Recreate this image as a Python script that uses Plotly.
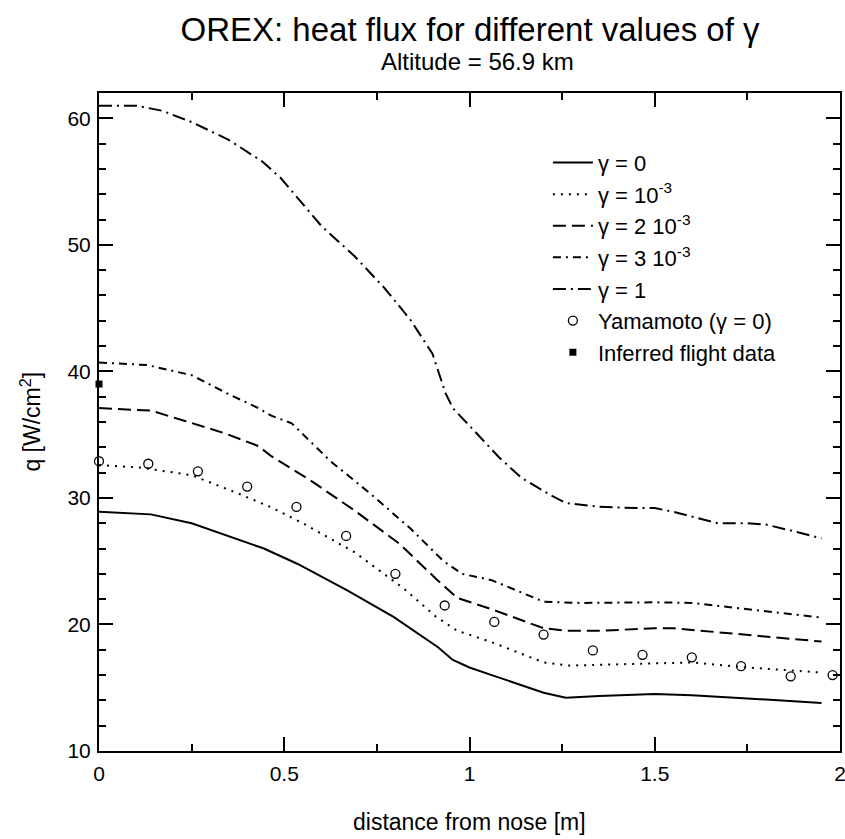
import plotly.graph_objects as go

# ---- data ----
x_g0 = [0, 0.14, 0.25, 0.355, 0.445, 0.535, 0.67, 0.795, 0.915, 0.955, 1.0, 1.06, 1.2, 1.26, 1.35, 1.5, 1.6, 1.75, 1.95]
y_g0 = [28.9, 28.7, 28.0, 26.9, 26.0, 24.8, 22.7, 20.6, 18.2, 17.2, 16.6, 16.0, 14.6, 14.2, 14.35, 14.5, 14.4, 14.15, 13.8]

x_g1e3 = [0, 0.11, 0.25, 0.38, 0.465, 0.55, 0.69, 0.82, 0.91, 0.967, 1.06, 1.2, 1.27, 1.35, 1.5, 1.6, 1.75, 1.95]
y_g1e3 = [32.6, 32.4, 31.8, 30.3, 29.25, 28.0, 25.7, 22.9, 20.6, 19.5, 18.6, 17.0, 16.75, 16.8, 16.9, 17.0, 16.6, 16.2]

x_g2e3 = [0, 0.14, 0.23, 0.34, 0.43, 0.465, 0.57, 0.69, 0.81, 0.91, 0.967, 1.06, 1.2, 1.26, 1.35, 1.5, 1.55, 1.7, 1.95]
y_g2e3 = [37.1, 36.9, 36.1, 35.1, 34.1, 33.3, 31.4, 29.0, 26.4, 23.6, 22.1, 21.2, 19.7, 19.5, 19.5, 19.7, 19.7, 19.3, 18.65]

x_g3e3 = [0, 0.13, 0.25, 0.35, 0.43, 0.465, 0.52, 0.625, 0.73, 0.84, 0.93, 0.98, 1.06, 1.2, 1.3, 1.5, 1.6, 1.75, 1.95]
y_g3e3 = [40.7, 40.5, 39.7, 38.2, 37.1, 36.5, 35.9, 32.9, 30.4, 27.6, 25.0, 24.0, 23.5, 21.8, 21.7, 21.75, 21.7, 21.2, 20.55]

x_g1 = [0, 0.1, 0.17, 0.25, 0.35, 0.44, 0.49, 0.6, 0.69, 0.77, 0.84, 0.9, 0.935, 0.955, 1.0, 1.08, 1.14, 1.22, 1.26, 1.35, 1.45, 1.5, 1.55, 1.62, 1.67, 1.75, 1.8, 1.87, 1.95]
y_g1 = [61.0, 61.0, 60.6, 59.7, 58.3, 56.6, 55.3, 51.5, 49.1, 46.6, 44.1, 41.4, 38.3, 37.1, 35.7, 33.2, 31.6, 30.2, 29.6, 29.3, 29.2, 29.2, 28.9, 28.4, 28.0, 28.0, 27.9, 27.4, 26.8]

x_yam = [0, 0.133, 0.267, 0.4, 0.533, 0.667, 0.8, 0.933, 1.067, 1.2, 1.333, 1.467, 1.6, 1.733, 1.867, 1.98]
y_yam = [32.9, 32.7, 32.1, 30.9, 29.3, 27.0, 24.0, 21.5, 20.2, 19.2, 17.95, 17.6, 17.4, 16.7, 15.9, 16.0]

x_flight = [0]
y_flight = [39.0]

names = ["γ = 0", "γ = 10<sup>-3</sup>", "γ = 2 10<sup>-3</sup>", "γ = 3 10<sup>-3</sup>", "γ = 1",
         "Yamamoto (γ = 0)", "Inferred flight data"]

FONT = "Liberation Sans, Arial, sans-serif"
W, H = 845, 839
ML, MR, MT, MB = 98.5, 4.5, 93.3, 88.3
PW = W - ML - MR
PH = H - MT - MB

fig = go.Figure()
line_specs = [
    (x_g0, y_g0, "solid"),
    (x_g1e3, y_g1e3, "2px,6px"),
    (x_g2e3, y_g2e3, "13px,6px"),
    (x_g3e3, y_g3e3, "8px,5px,2px,5px"),
    (x_g1, y_g1, "13px,5px,2px,5px"),
]
for (xs, ys, dash), nm in zip(line_specs, names[:5]):
    fig.add_trace(go.Scatter(x=xs, y=ys, mode="lines", name=nm,
                             line=dict(color="black", width=2, dash=dash)))

fig.add_trace(go.Scatter(x=x_yam, y=y_yam, mode="markers", name=names[5],
                         marker=dict(symbol="circle-open", size=9, color="black",
                                     line=dict(width=1.3, color="black")),
                         cliponaxis=False))
fig.add_trace(go.Scatter(x=x_flight, y=y_flight, mode="markers", name=names[6],
                         marker=dict(symbol="square", size=7, color="black"),
                         cliponaxis=False))

def py2paper(py):
    return (H - MB - py) / PH

def px2paper(px):
    return (px - ML) / PW

axis_common = dict(showline=True, linecolor="black", linewidth=2, mirror="ticks",
                   ticks="inside", ticklen=14, tickwidth=2, tickcolor="black",
                   showgrid=False, zeroline=False, ticklabeloverflow="allow",
                   tickfont=dict(family=FONT, size=21, color="black"))

fig.update_xaxes(range=[0, 2], dtick=0.5, tick0=0,
                 minor=dict(dtick=0.25, ticks="inside", ticklen=7, tickwidth=2, tickcolor="black"),
                 ticklabelstandoff=3, **axis_common)
fig.update_yaxes(range=[10, 62], dtick=10, tick0=10,
                 minor=dict(dtick=2, ticks="inside", ticklen=7, tickwidth=2, tickcolor="black"),
                 ticklabelstandoff=2, **axis_common)

fig.update_layout(
    width=W, height=H,
    margin=dict(l=ML, r=MR, t=MT, b=MB, autoexpand=False),
    paper_bgcolor="white", plot_bgcolor="white",
    font=dict(family=FONT, color="black"),
    showlegend=True,
    title=dict(text="OREX: heat flux for different values of γ", font=dict(family=FONT, size=33, color="black"),
               x=px2paper(470), xref="paper", xanchor="center", y=1 - 29 / H, yref="container", yanchor="middle"),
    legend=dict(x=px2paper(548), y=py2paper(142), xanchor="left", yanchor="top",
                bgcolor="rgba(0,0,0,0)", borderwidth=0,
                font=dict(family=FONT, size=22, color="black"), itemwidth=40),
    annotations=[
        dict(text="Altitude = 56.9 km", x=px2paper(478), xref="paper", y=py2paper(62), yref="paper",
             xanchor="center", yanchor="middle", showarrow=False,
             font=dict(family=FONT, size=24, color="black")),
        dict(text="distance from nose [m]", x=px2paper(469), xref="paper", y=py2paper(822), yref="paper",
             xanchor="center", yanchor="middle", showarrow=False,
             font=dict(family=FONT, size=23, color="black")),
        dict(text="q [W/cm<sup>2</sup>]", x=px2paper(30), xref="paper", y=0.5, yref="paper",
             xanchor="center", yanchor="middle", showarrow=False, textangle=-90,
             font=dict(family=FONT, size=23, color="black")),
    ],
)

fig.write_html("out.html")
